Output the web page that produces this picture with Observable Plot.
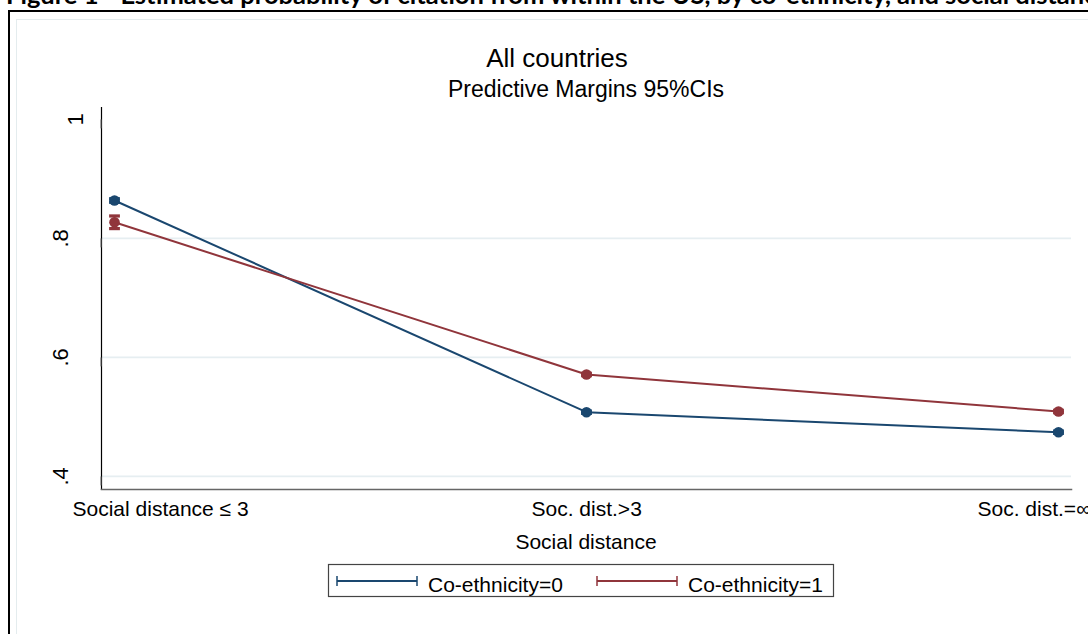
<!DOCTYPE html>
<html>
<head>
<meta charset="utf-8">
<script src="https://cdn.jsdelivr.net/npm/d3@7"></script>
<script src="https://cdn.jsdelivr.net/npm/@observablehq/plot@0.6"></script>
<style>
  html, body { margin: 0; padding: 0; background: #fff; }
  #page { position: relative; width: 1088px; height: 634px; overflow: hidden; font-family: "Liberation Sans", Arial, sans-serif; }
  #outer { position: absolute; left: 8px; top: 10px; width: 1300px; height: 800px; border: 2px solid #000; box-sizing: border-box; }
  #inner { position: absolute; left: 16px; top: 19px; width: 1300px; height: 800px; border: 1px solid #e4ecee; box-sizing: border-box; }
  #deco, #chart { position: absolute; left: 0; top: 0; }
</style>
</head>
<body>
<div id="page">
  <div id="outer"></div>
  <div id="inner"></div>
  <svg id="deco" width="1088" height="634"></svg>
  <div id="chart"></div>
</div>
<script>
// ---- data ----
const categories = ["Social distance \u2264 3", "Soc. dist.>3", "Soc. dist.=\u221E"];
const seriesNames = ["Co-ethnicity=0", "Co-ethnicity=1"];
const seriesColors = ["#1a476f", "#90353b"];
const coeth0 = [0.8637, 0.5079, 0.4743];
const coeth0Lo = [0.8607, 0.5059, 0.4723];
const coeth0Hi = [0.8667, 0.5099, 0.4763];
const coeth1 = [0.8271, 0.5713, 0.5091];
const coeth1Lo = [0.8165, 0.5693, 0.5071];
const coeth1Hi = [0.8377, 0.5733, 0.5111];
const yTicks = [1, 0.8, 0.6, 0.4];
const headerText = "Figure 1 - Estimated probability of citation from within the US, by co-ethnicity, and social distance";
const titleText = "All countries";
const subtitleText = "Predictive Margins 95%CIs";
const xTitle = "Social distance";

const rows = [];
categories.forEach((c, i) => {
  rows.push({cat: c, series: seriesNames[0], v: coeth0[i], lo: coeth0Lo[i], hi: coeth0Hi[i]});
  rows.push({cat: c, series: seriesNames[1], v: coeth1[i], lo: coeth1Lo[i], hi: coeth1Hi[i]});
});

const fmt = d => d === 1 ? "1" : String(d).replace(/^0\./, ".");
const font = "Liberation Sans, Arial, sans-serif";

const chart = Plot.plot({
  width: 1088, height: 634,
  marginTop: 107, marginBottom: 145, marginLeft: 101, marginRight: 17,
  style: {fontFamily: font, background: "transparent", color: "#000"},
  x: {type: "point", domain: categories, padding: 0.0275},
  y: {domain: [0.378, 1.02]},
  color: {domain: seriesNames, range: seriesColors},
  marks: [
    Plot.gridY(yTicks.filter(t => t < 1), {stroke: "#e6eef1", strokeOpacity: 1, strokeWidth: 1.6}),
    Plot.frame({anchor: "left", stroke: "#000", strokeWidth: 1.2}),
    Plot.frame({anchor: "bottom", stroke: "#666", strokeWidth: 1.5}),
    Plot.axisY(yTicks.filter(t => t < 1), {tickSize: 9, tickPadding: 25, rotate: -90, textAnchor: "middle", lineAnchor: "bottom", fontSize: 22, tickFormat: fmt, stroke: "#666", fill: "#000", label: null}),
    Plot.axisY(yTicks.filter(t => t === 1), {tickSize: 9, tickPadding: 10, rotate: -90, textAnchor: "middle", lineAnchor: "bottom", fontSize: 22, tickFormat: fmt, stroke: "#666", fill: "#000", label: null}),
    Plot.axisX([categories[0]], {tickSize: 0, tickPadding: 26, textAnchor: "start", lineAnchor: "bottom", dx: -42, fontSize: 21, fill: "#000", label: null}),
    Plot.axisX([categories[1]], {tickSize: 0, tickPadding: 26, textAnchor: "start", lineAnchor: "bottom", dx: -55, fontSize: 21, fill: "#000", label: null}),
    Plot.axisX([categories[2]], {tickSize: 0, tickPadding: 26, textAnchor: "start", lineAnchor: "bottom", dx: -81, fontSize: 21, fill: "#000", label: null}),
    Plot.line(rows, {x: "cat", y: "v", z: "series", stroke: "series", strokeWidth: 2}),
    Plot.link(rows, {x1: "cat", x2: "cat", y1: "lo", y2: "hi", stroke: "series", strokeWidth: 1.8, markerStart: "tick", markerEnd: "tick"}),
    Plot.dot(rows, {x: "cat", y: "v", fill: "series", r: 5.3})
  ]
});
document.getElementById("chart").appendChild(chart);

// ---- decorations: header, titles, axis title, legend ----
const deco = d3.select("#deco");
deco.append("text").attr("x", 6).attr("y", 4).attr("font-family", "Lato, sans-serif").attr("font-weight", 700)
  .attr("font-size", 25.5).text(headerText);
deco.append("text").attr("x", 557).attr("y", 67).attr("text-anchor", "middle").attr("font-family", font)
  .attr("font-size", 26).text(titleText);
deco.append("text").attr("x", 586).attr("y", 97).attr("text-anchor", "middle").attr("font-family", font)
  .attr("font-size", 23).text(subtitleText);
deco.append("text").attr("x", 586).attr("y", 549).attr("text-anchor", "middle").attr("font-family", font)
  .attr("font-size", 21).text(xTitle);

// legend
deco.append("rect").attr("x", 328.5).attr("y", 564.5).attr("width", 505).attr("height", 32)
  .attr("fill", "#fff").attr("stroke", "#444").attr("stroke-width", 1.2);
const legX = [337, 597];
seriesNames.forEach((name, i) => {
  const g = deco.append("g").attr("stroke", seriesColors[i]);
  const x0 = legX[i], x1 = legX[i] + 80, y = 581;
  g.append("line").attr("x1", x0).attr("x2", x1).attr("y1", y).attr("y2", y).attr("stroke-width", 2);
  g.append("line").attr("x1", x0).attr("x2", x0).attr("y1", y - 5).attr("y2", y + 5).attr("stroke-width", 1.5);
  g.append("line").attr("x1", x1).attr("x2", x1).attr("y1", y - 5).attr("y2", y + 5).attr("stroke-width", 1.5);
  deco.append("text").attr("x", x1 + 11).attr("y", 592).attr("font-family", font).attr("font-size", 21)
    .attr("fill", "#000").text(name);
});
</script>
</body>
</html>
